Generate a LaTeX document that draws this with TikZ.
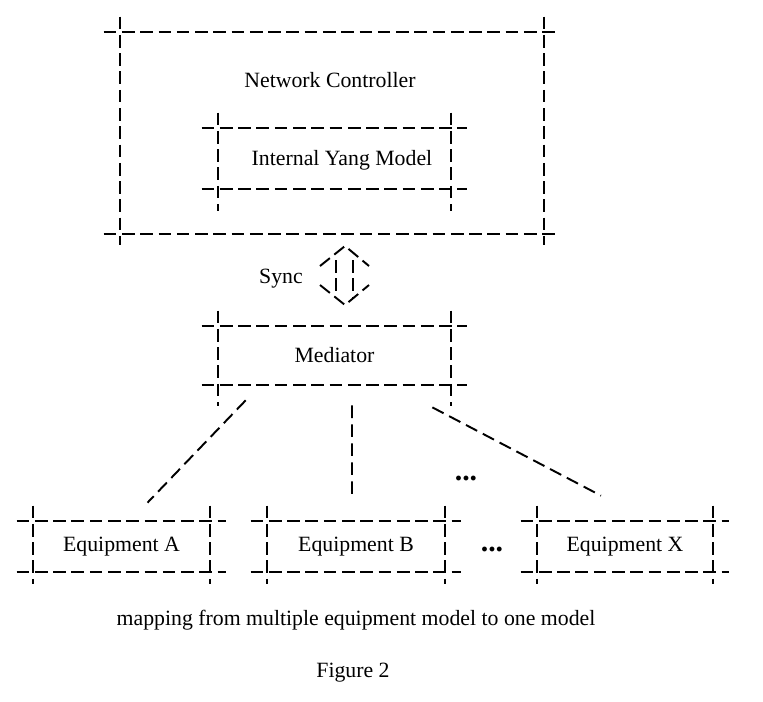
\documentclass[tikz,border=0pt]{standalone}
\usepackage{fontspec}
\setmainfont{Liberation Serif}
\usepackage{tikz}
\usetikzlibrary{positioning}

% dashed frame whose sides run past the corners
\newcommand{\crossbox}[2][13]{%
  \draw[dline] ([shift={(-16,0)}]#2.north west) -- ([shift={(16,0)}]#2.north east);
  \draw[dline] ([shift={(-16,0)}]#2.south west) -- ([shift={(16,0)}]#2.south east);
  \draw[dline] ([shift={(0,-15)}]#2.north west) -- ([shift={(0,#1)}]#2.south west);
  \draw[dline] ([shift={(0,-15)}]#2.north east) -- ([shift={(0,#1)}]#2.south east);
}

\begin{document}
\begin{tikzpicture}[x=0.02cm, y=-0.02cm,
  font=\fontsize{12.4}{15}\selectfont,
  dline/.style={line width=1.1pt, dash pattern=on 7.2pt off 3.2pt},
  link/.style={line width=1.1pt, dash pattern=on 7.2pt off 3.6pt},
  frame/.style={rectangle, inner sep=0pt, minimum height=#1},
  dots/.style={font=\fontsize{17}{17}\bfseries\selectfont, inner sep=0pt}]
\useasboundingbox (0,0) rectangle (763,701);
  % Controller with its internal model
  \node[frame=4.04cm, minimum width=8.48cm] (nc) at (332,133) {};
  \node (nctitle) at (330,80) {Network Controller};
  \node[frame=1.22cm, minimum width=4.66cm] (yang) at (334.5,158.5) {};
  \node (yangtitle) at (342,160) {Internal Yang Model};
  \crossbox[11]{nc}
  \crossbox[22]{yang}
  % Sync double arrow
  \node (sync) at (281,279) {Sync};
  \draw[dline] (320,266) -- (345,246) -- (369,266);
  \draw[dline] (320,285) -- (345,305) -- (369,285);
  \draw[dline] (336,260) -- (336,298);
  \draw[dline] (353,260) -- (353,298);
  % Mediator
  \node[frame=1.18cm, minimum width=4.66cm] (med) at (334.5,355.5) {Mediator};
  \crossbox[21]{med}
  % Equipment row
  \node[frame=1.02cm, minimum width=3.54cm] (eqA) at (121.5,546.5) {Equipment A};
  \node[frame=1.02cm, minimum width=3.56cm] (eqB) at (356,546.5) {Equipment B};
  \node[frame=1.02cm, minimum width=3.52cm] (eqX) at (625,546.5) {Equipment X};
  \crossbox[12]{eqA}
  \crossbox[12]{eqB}
  \crossbox[12]{eqX}
  \node[dots] (dotsrow) at (492,549) {...};
  \node[dots] (dotslink) at (466,478) {...};
  % Links from mediator
  \draw[link] ([shift={(28,15)}]med.south west) -- ([shift={(26,-18)}]eqA.north);
  \draw[link] ([shift={(17.5,20)}]med.south) -- ([shift={(-4,-21)}]eqB.north);
  \draw[link] ([shift={(-19,22)}]med.south east) -- ([shift={(-24,-25)}]eqX.north);
  % Caption
  \node (caption) at (356,620) {mapping from multiple equipment model to one model};
  \node (fig) at (353,673) {Figure 2};
\end{tikzpicture}
\end{document}
